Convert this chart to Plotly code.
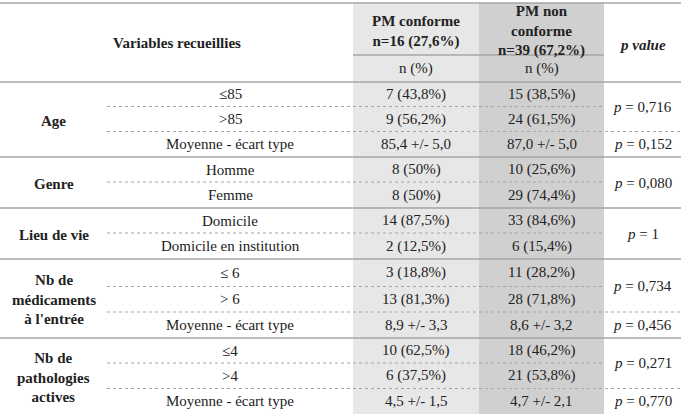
import plotly.graph_objects as go

# ---------------- data ----------------
header_vars = "Variables recueillies"
header_conf = "PM conforme<br>n=16 (27,6%)"
header_nonconf = "PM non<br>conforme<br>n=39 (67,2%)"
header_p = "p value"
subheader = "n (%)"

groups = ["Age", "Genre", "Lieu de vie",
          "Nb de<br>médicaments<br>à l'entrée",
          "Nb de<br>pathologies<br>actives"]
group_sizes = [3, 2, 2, 3, 3]

sub_labels = ["≤85", ">85", "Moyenne - écart type",
              "Homme", "Femme",
              "Domicile", "Domicile en institution",
              "≤ 6", "> 6", "Moyenne - écart type",
              "≤4", ">4", "Moyenne - écart type"]

conforme = ["7 (43,8%)", "9 (56,2%)", "85,4 +/- 5,0",
            "8 (50%)", "8 (50%)",
            "14 (87,5%)", "2 (12,5%)",
            "3 (18,8%)", "13 (81,3%)", "8,9 +/- 3,3",
            "10 (62,5%)", "6 (37,5%)", "4,5 +/- 1,5"]

non_conforme = ["15 (38,5%)", "24 (61,5%)", "87,0 +/- 5,0",
                "10 (25,6%)", "29 (74,4%)",
                "33 (84,6%)", "6 (15,4%)",
                "11 (28,2%)", "28 (71,8%)", "8,6 +/- 3,2",
                "18 (46,2%)", "21 (53,8%)", "4,7 +/- 2,1"]

p_values = ["0,716", "0,152", "0,080", "1", "0,734", "0,456", "0,271", "0,770"]
p_spans = [2, 1, 2, 2, 2, 1, 2, 1]

# ---------------- layout geometry ----------------
W, H = 681, 414
col_x = [0, 107, 353, 479, 604, 681]       # column edges
top = 3
head_mid = 55
head_bot = 82
row_edges = [82, 106.5, 131.5, 157, 182, 208, 233, 259, 286.5, 312, 338, 363, 388.5, 414]

FONT = "Liberation Serif"
FS = 15
TXT = "#222222"
C3 = "#e7e7e7"
C4 = "#d0d0d0"
LINE = "#a6a6a6"

fig = go.Figure()
shapes = []
ann = []

def cx(i):
    return (col_x[i] + col_x[i + 1]) / 2

def text(x, y, s, bold=False, size=FS):
    if bold:
        s = "<b>" + s + "</b>"
    ann.append(dict(x=x, y=y, xref="x", yref="y", text=s, showarrow=False,
                    font=dict(family=FONT, size=size, color=TXT),
                    xanchor="center", yanchor="middle", align="center"))

# column shading
shapes.append(dict(type="rect", x0=col_x[2], x1=col_x[3], y0=top, y1=H,
                   fillcolor=C3, line=dict(width=0), layer="below"))
shapes.append(dict(type="rect", x0=col_x[3], x1=col_x[4], y0=top, y1=H,
                   fillcolor=C4, line=dict(width=0), layer="below"))

def hline(y, x0, x1, dotted=False):
    shapes.append(dict(type="line", x0=x0, x1=x1, y0=y, y1=y,
                       line=dict(color=LINE, width=1 if dotted else 1.5,
                                 dash="dot" if dotted else "solid")))

# header lines
hline(top, 0, W)
hline(head_mid, col_x[2], col_x[4])
hline(head_bot, 0, W)

# header texts
text((col_x[0] + col_x[2]) / 2, (top + head_bot) / 2, header_vars, bold=True)
text(cx(2), (top + head_mid) / 2 + 2, header_conf, bold=True)
text(cx(3), (top + head_mid) / 2 + 2, header_nonconf, bold=True)
text(cx(4), (top + head_bot) / 2 + 2, "<b><i>" + header_p + "</i></b>")
text(cx(2), (head_mid + head_bot) / 2, subheader)
text(cx(3), (head_mid + head_bot) / 2, subheader)

# rows
for r in range(len(sub_labels)):
    yc = (row_edges[r] + row_edges[r + 1]) / 2
    text(cx(1), yc, sub_labels[r])
    text(cx(2), yc, conforme[r])
    text(cx(3), yc, non_conforme[r])

# group labels & group separators
r = 0
for g, n in zip(groups, group_sizes):
    y0, y1 = row_edges[r], row_edges[r + n]
    text(cx(0), (y0 + y1) / 2 + 1, g, bold=True)
    if r + n < len(sub_labels):
        hline(y1, 0, W)
    r += n

# p values & inner separators
r = 0
p_group_ends = set()
for pv, n in zip(p_values, p_spans):
    y0, y1 = row_edges[r], row_edges[r + n]
    text(cx(4), (y0 + y1) / 2, "<i>p</i> = " + pv)
    p_group_ends.add(r + n)
    r += n

group_ends = set()
acc = 0
for n in group_sizes:
    acc += n
    group_ends.add(acc)

for i in range(1, len(sub_labels)):
    if i in group_ends:
        continue
    x1 = W if i in p_group_ends else col_x[4]
    hline(row_edges[i], col_x[1], x1, dotted=True)

fig.update_layout(
    width=W, height=H,
    margin=dict(l=0, r=0, t=0, b=0),
    paper_bgcolor="white", plot_bgcolor="white",
    xaxis=dict(range=[0, W], visible=False, fixedrange=True),
    yaxis=dict(range=[H, 0], visible=False, fixedrange=True),
    shapes=shapes, annotations=ann, showlegend=False,
)

fig.write_html(
    "out.html",
    config={"displayModeBar": False, "staticPlot": True},
    post_script="document.body.style.margin='0px';document.body.style.overflow='hidden';",
)
